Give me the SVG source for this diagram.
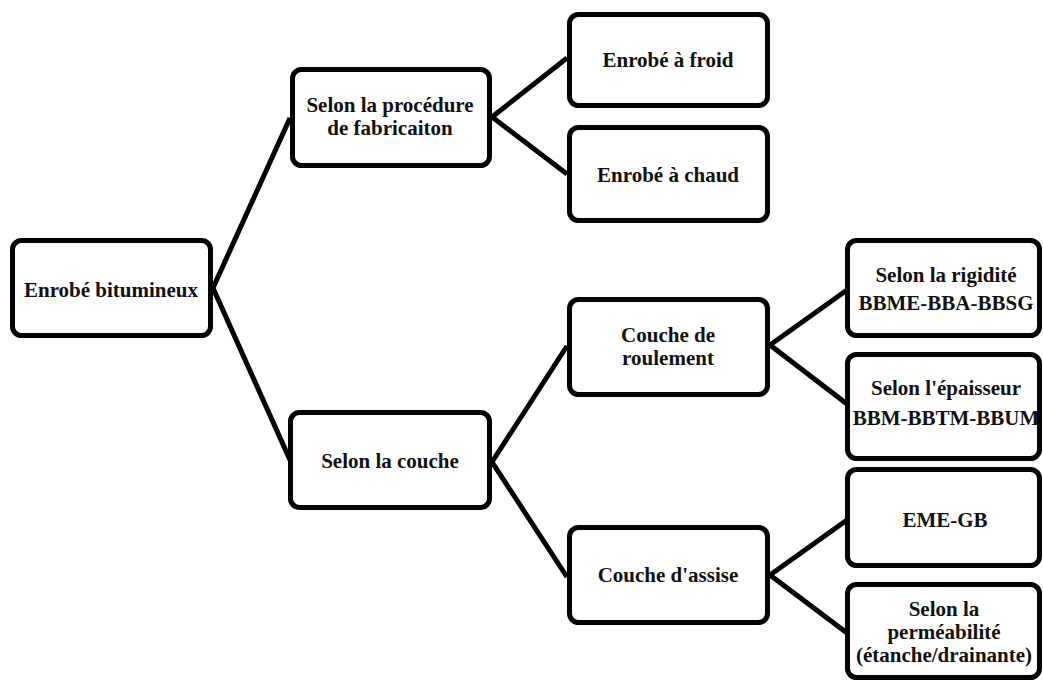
<svg xmlns="http://www.w3.org/2000/svg" width="1043" height="681" viewBox="0 0 1043 681">
<style>
.box{fill:#fff;stroke:#000;stroke-width:5}
.t{font-family:"Liberation Serif","Times New Roman",serif;font-weight:bold;font-size:21px;fill:#111;text-anchor:middle}
.c{stroke:#000;stroke-width:5;fill:none;stroke-linejoin:miter}
</style>
<rect width="1043" height="681" fill="#fff"/>
<g id="connectors">
<polyline class="c" points="290,118 213,288 290,460"/>
<polyline class="c" points="567,58 492,117 567,174"/>
<polyline class="c" points="567,346 492,462 567,577"/>
<polyline class="c" points="847,290 770,345 847,404"/>
<polyline class="c" points="847,520 770,575 847,633"/>
</g>
<g id="n-root"><rect class="box" x="12.5" y="240.5" width="198" height="95" rx="9"/><text class="t" x="111" y="297">Enrobé bitumineux</text></g>
<g id="n-procedure"><rect class="box" x="292.5" y="69.5" width="197" height="96" rx="9"/><text class="t" x="390" y="112">Selon la procédure</text><text class="t" x="390" y="135">de fabricaiton</text></g>
<g id="n-froid"><rect class="box" x="569.5" y="14.5" width="198" height="91" rx="9"/><text class="t" x="668" y="67">Enrobé à froid</text></g>
<g id="n-chaud"><rect class="box" x="569.5" y="127.5" width="198" height="93" rx="9"/><text class="t" x="668" y="182">Enrobé à chaud</text></g>
<g id="n-couche"><rect class="box" x="290.5" y="412.5" width="199" height="95" rx="9"/><text class="t" x="390" y="468">Selon la couche</text></g>
<g id="n-roulement"><rect class="box" x="569.5" y="299.5" width="198" height="95" rx="9"/><text class="t" x="668" y="342">Couche de</text><text class="t" x="668" y="365">roulement</text></g>
<g id="n-assise"><rect class="box" x="569.5" y="527.5" width="198" height="95" rx="9"/><text class="t" x="668" y="582">Couche d'assise</text></g>
<g id="n-rigidite"><rect class="box" x="847.5" y="240.5" width="192" height="95" rx="9"/><text class="t" x="946" y="282">Selon la rigidité</text><text class="t" x="946" y="310">BBME-BBA-BBSG</text></g>
<g id="n-epaisseur"><rect class="box" x="847.5" y="354.5" width="192" height="104" rx="9"/><text class="t" x="946" y="395">Selon l'épaisseur</text><text class="t" x="946" y="425">BBM-BBTM-BBUM</text></g>
<g id="n-emegb"><rect class="box" x="847.5" y="469.5" width="192" height="96" rx="9"/><text class="t" x="945" y="527">EME-GB</text></g>
<g id="n-permeabilite"><rect class="box" x="847.5" y="584.5" width="192" height="93" rx="9"/><text class="t" x="944" y="616">Selon la</text><text class="t" x="944" y="639">perméabilité</text><text class="t" x="944" y="662">(étanche/drainante)</text></g>
</svg>
